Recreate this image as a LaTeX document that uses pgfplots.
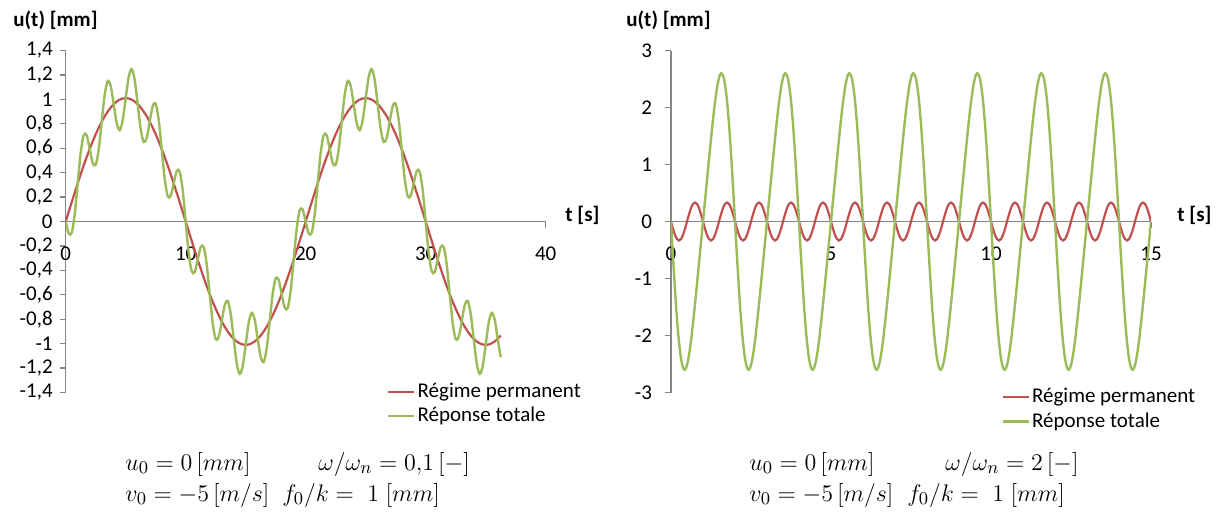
\documentclass[border=0pt]{standalone}
\usepackage{pgfplots}
\pgfplotsset{compat=1.18}
\usepackage{pgfplotstable}
\usepackage{fontspec}
\setmainfont{Carlito}
\definecolor{exred}{HTML}{C0504D}
\definecolor{exgreen}{HTML}{9BBB59}
\definecolor{axgray}{HTML}{868686}

% omega/omega_n = 0.1 : t, regime permanent, reponse totale
\pgfplotstableread{
t r g
0 0 0
0.25 0.0793 -0.0975
0.5 0.1580 -0.0920
0.75 0.2358 0.0590
1 0.3121 0.3121
1.25 0.3865 0.5633
1.5 0.4586 0.7086
1.75 0.5278 0.7046
2 0.5937 0.5937
2.25 0.6560 0.4792
2.5 0.7143 0.4643
2.75 0.7681 0.5913
3 0.8172 0.8172
3.25 0.8613 1.0381
3.5 0.9000 1.1500
3.75 0.9332 1.1100
4 0.9607 0.9607
4.25 0.9822 0.8054
4.5 0.9977 0.7477
4.75 1.0070 0.8302
5 1.0101 1.0101
5.25 1.0070 1.1838
5.5 0.9977 1.2477
5.75 0.9822 1.1590
6 0.9607 0.9607
6.25 0.9332 0.7564
6.5 0.9000 0.6500
6.75 0.8613 0.6845
7 0.8172 0.8172
7.25 0.7681 0.9449
7.5 0.7143 0.9643
7.75 0.6560 0.8328
8 0.5937 0.5937
8.25 0.5278 0.3510
8.5 0.4586 0.2086
8.75 0.3865 0.2097
9 0.3121 0.3121
9.25 0.2358 0.4126
9.5 0.1580 0.4080
9.75 0.0793 0.2561
10 0 0
10.25 -0.0793 -0.2561
10.5 -0.1580 -0.4080
10.75 -0.2358 -0.4126
11 -0.3121 -0.3121
11.25 -0.3865 -0.2097
11.5 -0.4586 -0.2086
11.75 -0.5278 -0.3510
12 -0.5937 -0.5937
12.25 -0.6560 -0.8328
12.5 -0.7143 -0.9643
12.75 -0.7681 -0.9449
13 -0.8172 -0.8172
13.25 -0.8613 -0.6845
13.5 -0.9000 -0.6500
13.75 -0.9332 -0.7564
14 -0.9607 -0.9607
14.25 -0.9822 -1.1590
14.5 -0.9977 -1.2477
14.75 -1.0070 -1.1838
15 -1.0101 -1.0101
15.25 -1.0070 -0.8302
15.5 -0.9977 -0.7477
15.75 -0.9822 -0.8054
16 -0.9607 -0.9607
16.25 -0.9332 -1.1100
16.5 -0.9000 -1.1500
16.75 -0.8613 -1.0381
17 -0.8172 -0.8172
17.25 -0.7681 -0.5913
17.5 -0.7143 -0.4643
17.75 -0.6560 -0.4792
18 -0.5937 -0.5937
18.25 -0.5278 -0.7046
18.5 -0.4586 -0.7086
18.75 -0.3865 -0.5633
19 -0.3121 -0.3121
19.25 -0.2358 -0.0590
19.5 -0.1580 0.0920
19.75 -0.0793 0.0975
20 0 0
20.25 0.0793 -0.0975
20.5 0.1580 -0.0920
20.75 0.2358 0.0590
21 0.3121 0.3121
21.25 0.3865 0.5633
21.5 0.4586 0.7086
21.75 0.5278 0.7046
22 0.5937 0.5937
22.25 0.6560 0.4792
22.5 0.7143 0.4643
22.75 0.7681 0.5913
23 0.8172 0.8172
23.25 0.8613 1.0381
23.5 0.9000 1.1500
23.75 0.9332 1.1100
24 0.9607 0.9607
24.25 0.9822 0.8054
24.5 0.9977 0.7477
24.75 1.0070 0.8302
25 1.0101 1.0101
25.25 1.0070 1.1838
25.5 0.9977 1.2477
25.75 0.9822 1.1590
26 0.9607 0.9607
26.25 0.9332 0.7564
26.5 0.9000 0.6500
26.75 0.8613 0.6845
27 0.8172 0.8172
27.25 0.7681 0.9449
27.5 0.7143 0.9643
27.75 0.6560 0.8328
28 0.5937 0.5937
28.25 0.5278 0.3510
28.5 0.4586 0.2086
28.75 0.3865 0.2097
29 0.3121 0.3121
29.25 0.2358 0.4126
29.5 0.1580 0.4080
29.75 0.0793 0.2561
30 0 0
30.25 -0.0793 -0.2561
30.5 -0.1580 -0.4080
30.75 -0.2358 -0.4126
31 -0.3121 -0.3121
31.25 -0.3865 -0.2097
31.5 -0.4586 -0.2086
31.75 -0.5278 -0.3510
32 -0.5937 -0.5937
32.25 -0.6560 -0.8328
32.5 -0.7143 -0.9643
32.75 -0.7681 -0.9449
33 -0.8172 -0.8172
33.25 -0.8613 -0.6845
33.5 -0.9000 -0.6500
33.75 -0.9332 -0.7564
34 -0.9607 -0.9607
34.25 -0.9822 -1.1590
34.5 -0.9977 -1.2477
34.75 -1.0070 -1.1838
35 -1.0101 -1.0101
35.25 -1.0070 -0.8302
35.5 -0.9977 -0.7477
35.75 -0.9822 -0.8054
36 -0.9607 -0.9607
36.25 -0.9332 -1.1100
}\lefttab

% omega/omega_n = 2 : t, regime permanent, reponse totale
\pgfplotstableread{
t r g
0 0 0
0.0625 -0.1276 -0.6192
0.125 -0.2357 -1.2001
0.1875 -0.3079 -1.7079
0.25 -0.3333 -2.1152
0.3125 -0.3079 -2.4032
0.375 -0.2357 -2.5639
0.4375 -0.1276 -2.5992
0.5 0 -2.52
0.5625 0.1276 -2.3440
0.625 0.2357 -2.0925
0.6875 0.3079 -1.7874
0.75 0.3333 -1.4486
0.8125 0.3079 -1.0921
0.875 0.2357 -0.7287
0.9375 0.1276 -0.3640
1 0 0
1.0625 -0.1276 0.3640
1.125 -0.2357 0.7287
1.1875 -0.3079 1.0921
1.25 -0.3333 1.4486
1.3125 -0.3079 1.7874
1.375 -0.2357 2.0925
1.4375 -0.1276 2.3440
1.5 0 2.52
1.5625 0.1276 2.5992
1.625 0.2357 2.5639
1.6875 0.3079 2.4032
1.75 0.3333 2.1152
1.8125 0.3079 1.7079
1.875 0.2357 1.2001
1.9375 0.1276 0.6192
2 0 0
2.0625 -0.1276 -0.6192
2.125 -0.2357 -1.2001
2.1875 -0.3079 -1.7079
2.25 -0.3333 -2.1152
2.3125 -0.3079 -2.4032
2.375 -0.2357 -2.5639
2.4375 -0.1276 -2.5992
2.5 0 -2.52
2.5625 0.1276 -2.3440
2.625 0.2357 -2.0925
2.6875 0.3079 -1.7874
2.75 0.3333 -1.4486
2.8125 0.3079 -1.0921
2.875 0.2357 -0.7287
2.9375 0.1276 -0.3640
3 0 0
3.0625 -0.1276 0.3640
3.125 -0.2357 0.7287
3.1875 -0.3079 1.0921
3.25 -0.3333 1.4486
3.3125 -0.3079 1.7874
3.375 -0.2357 2.0925
3.4375 -0.1276 2.3440
3.5 0 2.52
3.5625 0.1276 2.5992
3.625 0.2357 2.5639
3.6875 0.3079 2.4032
3.75 0.3333 2.1152
3.8125 0.3079 1.7079
3.875 0.2357 1.2001
3.9375 0.1276 0.6192
4 0 0
4.0625 -0.1276 -0.6192
4.125 -0.2357 -1.2001
4.1875 -0.3079 -1.7079
4.25 -0.3333 -2.1152
4.3125 -0.3079 -2.4032
4.375 -0.2357 -2.5639
4.4375 -0.1276 -2.5992
4.5 0 -2.52
4.5625 0.1276 -2.3440
4.625 0.2357 -2.0925
4.6875 0.3079 -1.7874
4.75 0.3333 -1.4486
4.8125 0.3079 -1.0921
4.875 0.2357 -0.7287
4.9375 0.1276 -0.3640
5 0 0
5.0625 -0.1276 0.3640
5.125 -0.2357 0.7287
5.1875 -0.3079 1.0921
5.25 -0.3333 1.4486
5.3125 -0.3079 1.7874
5.375 -0.2357 2.0925
5.4375 -0.1276 2.3440
5.5 0 2.52
5.5625 0.1276 2.5992
5.625 0.2357 2.5639
5.6875 0.3079 2.4032
5.75 0.3333 2.1152
5.8125 0.3079 1.7079
5.875 0.2357 1.2001
5.9375 0.1276 0.6192
6 0 0
6.0625 -0.1276 -0.6192
6.125 -0.2357 -1.2001
6.1875 -0.3079 -1.7079
6.25 -0.3333 -2.1152
6.3125 -0.3079 -2.4032
6.375 -0.2357 -2.5639
6.4375 -0.1276 -2.5992
6.5 0 -2.52
6.5625 0.1276 -2.3440
6.625 0.2357 -2.0925
6.6875 0.3079 -1.7874
6.75 0.3333 -1.4486
6.8125 0.3079 -1.0921
6.875 0.2357 -0.7287
6.9375 0.1276 -0.3640
7 0 0
7.0625 -0.1276 0.3640
7.125 -0.2357 0.7287
7.1875 -0.3079 1.0921
7.25 -0.3333 1.4486
7.3125 -0.3079 1.7874
7.375 -0.2357 2.0925
7.4375 -0.1276 2.3440
7.5 0 2.52
7.5625 0.1276 2.5992
7.625 0.2357 2.5639
7.6875 0.3079 2.4032
7.75 0.3333 2.1152
7.8125 0.3079 1.7079
7.875 0.2357 1.2001
7.9375 0.1276 0.6192
8 0 0
8.0625 -0.1276 -0.6192
8.125 -0.2357 -1.2001
8.1875 -0.3079 -1.7079
8.25 -0.3333 -2.1152
8.3125 -0.3079 -2.4032
8.375 -0.2357 -2.5639
8.4375 -0.1276 -2.5992
8.5 0 -2.52
8.5625 0.1276 -2.3440
8.625 0.2357 -2.0925
8.6875 0.3079 -1.7874
8.75 0.3333 -1.4486
8.8125 0.3079 -1.0921
8.875 0.2357 -0.7287
8.9375 0.1276 -0.3640
9 0 0
9.0625 -0.1276 0.3640
9.125 -0.2357 0.7287
9.1875 -0.3079 1.0921
9.25 -0.3333 1.4486
9.3125 -0.3079 1.7874
9.375 -0.2357 2.0925
9.4375 -0.1276 2.3440
9.5 0 2.52
9.5625 0.1276 2.5992
9.625 0.2357 2.5639
9.6875 0.3079 2.4032
9.75 0.3333 2.1152
9.8125 0.3079 1.7079
9.875 0.2357 1.2001
9.9375 0.1276 0.6192
10 0 0
10.0625 -0.1276 -0.6192
10.125 -0.2357 -1.2001
10.1875 -0.3079 -1.7079
10.25 -0.3333 -2.1152
10.3125 -0.3079 -2.4032
10.375 -0.2357 -2.5639
10.4375 -0.1276 -2.5992
10.5 0 -2.52
10.5625 0.1276 -2.3440
10.625 0.2357 -2.0925
10.6875 0.3079 -1.7874
10.75 0.3333 -1.4486
10.8125 0.3079 -1.0921
10.875 0.2357 -0.7287
10.9375 0.1276 -0.3640
11 0 0
11.0625 -0.1276 0.3640
11.125 -0.2357 0.7287
11.1875 -0.3079 1.0921
11.25 -0.3333 1.4486
11.3125 -0.3079 1.7874
11.375 -0.2357 2.0925
11.4375 -0.1276 2.3440
11.5 0 2.52
11.5625 0.1276 2.5992
11.625 0.2357 2.5639
11.6875 0.3079 2.4032
11.75 0.3333 2.1152
11.8125 0.3079 1.7079
11.875 0.2357 1.2001
11.9375 0.1276 0.6192
12 0 0
12.0625 -0.1276 -0.6192
12.125 -0.2357 -1.2001
12.1875 -0.3079 -1.7079
12.25 -0.3333 -2.1152
12.3125 -0.3079 -2.4032
12.375 -0.2357 -2.5639
12.4375 -0.1276 -2.5992
12.5 0 -2.52
12.5625 0.1276 -2.3440
12.625 0.2357 -2.0925
12.6875 0.3079 -1.7874
12.75 0.3333 -1.4486
12.8125 0.3079 -1.0921
12.875 0.2357 -0.7287
12.9375 0.1276 -0.3640
13 0 0
13.0625 -0.1276 0.3640
13.125 -0.2357 0.7287
13.1875 -0.3079 1.0921
13.25 -0.3333 1.4486
13.3125 -0.3079 1.7874
13.375 -0.2357 2.0925
13.4375 -0.1276 2.3440
13.5 0 2.52
13.5625 0.1276 2.5992
13.625 0.2357 2.5639
13.6875 0.3079 2.4032
13.75 0.3333 2.1152
13.8125 0.3079 1.7079
13.875 0.2357 1.2001
13.9375 0.1276 0.6192
14 0 0
14.0625 -0.1276 -0.6192
14.125 -0.2357 -1.2001
14.1875 -0.3079 -1.7079
14.25 -0.3333 -2.1152
14.3125 -0.3079 -2.4032
14.375 -0.2357 -2.5639
14.4375 -0.1276 -2.5992
14.5 0 -2.52
14.5625 0.1276 -2.3440
14.625 0.2357 -2.0925
14.6875 0.3079 -1.7874
14.75 0.3333 -1.4486
14.8125 0.3079 -1.0921
14.875 0.2357 -0.7287
14.9375 0.1276 -0.3640
15 0 0
}\righttab

\pgfplotsset{
  excel/.style={
    scale only axis, width=240pt, height=171pt,
    axis lines=middle,
    axis line style={draw=axgray, line width=0.6pt, -},
    every inner x axis line/.append style={-},
    every inner y axis line/.append style={-},
    tick style={draw=axgray, line width=0.6pt},
    tick align=outside, major tick length=3pt,
    hide obscured x ticks=false, hide obscured y ticks=false,
    ticklabel style={font=\fontsize{10.5}{12}\selectfont, text=black},
    /pgf/number format/assume math mode=true,
    /pgf/number format/use comma,
    /pgf/number format/fixed,
    /pgf/number format/precision=1,
    xticklabel style={yshift=-6pt},
    legend style={draw=none, fill=none, inner sep=0pt,
      font=\fontsize{10.5}{12}\selectfont,
      nodes={inner sep=1pt}, row sep=1.5pt, anchor=north west},
    legend cell align=left,
    legend image code/.code={\draw[##1] (0pt,0pt) -- (13pt,0pt);},
  },
  redline/.style={exred, line width=1.1pt, smooth},
  greenline/.style={exgreen, line width=1.2pt, smooth},
}

\begin{document}
\begin{tikzpicture}
\useasboundingbox (0,0) rectangle (610pt,255.5pt);

\begin{axis}[excel, at={(32.85pt,59.25pt)}, anchor=south west,
  xmin=0, xmax=40, ymin=-1.4, ymax=1.4,
  xtick={0,10,20,30,40},
  ytick={-1.4,-1.2,-1,-0.8,-0.6,-0.4,-0.2,0,0.2,0.4,0.6,0.8,1,1.2,1.4},
  legend style={at={(0.669,0.035)}}]
\addplot[redline] table[x=t, y=r] {\lefttab};
\addlegendentry{Régime permanent}
\addplot[greenline] table[x=t, y=g] {\lefttab};
\addlegendentry{Réponse totale}
\end{axis}

\begin{axis}[excel, at={(335.5pt,59.25pt)}, anchor=south west,
  xmin=0, xmax=15, ymin=-3, ymax=3,
  xtick={0,5,10,15},
  ytick={-3,-2,-1,0,1,2,3},
  yticklabel style={xshift=-3pt},
  legend style={at={(0.688,0.02)}}]
\addplot[redline] table[x=t, y=r] {\righttab};
\addlegendentry{Régime permanent}
\addplot[greenline] table[x=t, y=g] {\righttab};
\addlegendentry{Réponse totale}
\end{axis}

% axis titles
\node[anchor=west, inner sep=0pt, font=\fontsize{10.5}{12}\selectfont\bfseries] at (6.5pt,245.5pt) {u(t) [mm]};
\node[anchor=west, inner sep=0pt, font=\fontsize{10.5}{12}\selectfont\bfseries] at (313pt,245.5pt) {u(t) [mm]};
\node[anchor=west, inner sep=0pt, font=\fontsize{10.5}{12}\selectfont\bfseries] at (282.5pt,148pt) {t [s]};
\node[anchor=west, inner sep=0pt, font=\fontsize{10.5}{12}\selectfont\bfseries] at (588.5pt,148pt) {t [s]};

% parameters
\begin{scope}[every node/.style={anchor=base west, inner sep=0pt, font=\fontsize{12.5}{15}\selectfont}]
\node at (62.5pt,20.5pt) {$u_0 = 0\,[mm]$};
\node at (159pt,20.5pt) {$\omega/\omega_n = 0{,}1\,[-]$};
\node at (62.5pt,5pt) {$v_0 = -5\,[m/s]$};
\node at (141pt,5pt) {$f_0/k =\; 1\;[mm]$};
\node at (374.5pt,20.5pt) {$u_0 = 0\,[mm]$};
\node at (472.5pt,20.5pt) {$\omega/\omega_n = 2\,[-]$};
\node at (374.5pt,5pt) {$v_0 = -5\,[m/s]$};
\node at (453.5pt,5pt) {$f_0/k =\; 1\;[mm]$};
\end{scope}
\end{tikzpicture}
\end{document}
